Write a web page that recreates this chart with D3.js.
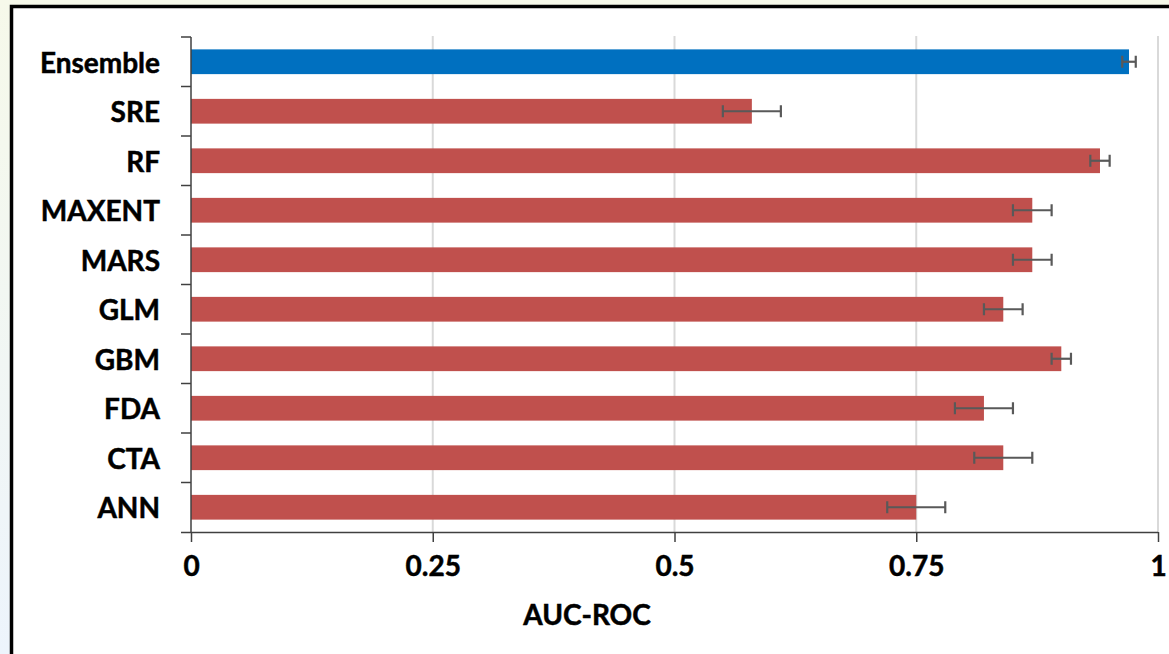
<!DOCTYPE html>
<html>
<head>
<meta charset="utf-8">
<script src="https://cdn.jsdelivr.net/npm/d3@7"></script>
<style>
  html, body { margin: 0; padding: 0; }
  body { width: 1169px; height: 654px; overflow: hidden; }
  text { font-family: Lato, "Liberation Sans", sans-serif; font-weight: bold; fill: #000; stroke: #000; stroke-width: 0.5px; }
</style>
</head>
<body>
<svg id="chart" width="1169" height="654"></svg>
<script>
// Model names, mean AUC-ROC and the spread shown by the error bars
const models = ["Ensemble", "SRE", "RF", "MAXENT", "MARS", "GLM", "GBM", "FDA", "CTA", "ANN"];
const aucMean = [0.97, 0.58, 0.94, 0.87, 0.87, 0.84, 0.90, 0.82, 0.84, 0.75];
const aucErr  = [0.007, 0.03, 0.01, 0.02, 0.02, 0.02, 0.01, 0.03, 0.03, 0.03];
const xTicks  = [0, 0.25, 0.5, 0.75, 1];
const xTickLabels = ["0", "0.25", "0.5", "0.75", "1"];
const axisTitle = "AUC-ROC";

const rows = models.map((m, i) => ({ model: m, mean: aucMean[i], err: aucErr[i] }));

const svg = d3.select("#chart");

// soft page backdrop with the framed chart area on top
const defs = svg.append("defs");
const grad = defs.append("linearGradient").attr("id", "bg").attr("x1", 0).attr("y1", 0).attr("x2", 0).attr("y2", 1);
grad.append("stop").attr("offset", "0%").attr("stop-color", "#F6F9EA");
grad.append("stop").attr("offset", "100%").attr("stop-color", "#EDF4FC");
svg.append("rect").attr("width", 1169).attr("height", 654).attr("fill", "url(#bg)");
svg.append("rect").attr("x", 11.5).attr("y", 6.5).attr("width", 1200).attr("height", 700)
  .attr("fill", "#fff").attr("stroke", "#000").attr("stroke-width", 3.5);

const plotLeft = 191, plotRight = 1158, plotTop = 37, plotBottom = 532;

const x = d3.scaleLinear().domain([0, 1]).range([plotLeft, plotRight]);
const y = d3.scaleBand().domain(models).range([plotTop, plotBottom]).paddingInner(0.5).paddingOuter(0.25);

// vertical gridlines
svg.append("g").selectAll("line").data(xTicks.filter(t => t > 0)).join("line")
  .attr("x1", d => x(d)).attr("x2", d => x(d))
  .attr("y1", plotTop - 1).attr("y2", plotBottom)
  .attr("stroke", "#D9D9D9").attr("stroke-width", 2);

// bars
svg.append("g").selectAll("rect").data(rows).join("rect")
  .attr("x", x(0)).attr("y", d => y(d.model))
  .attr("width", d => x(d.mean) - x(0)).attr("height", y.bandwidth())
  .attr("fill", d => d.model === "Ensemble" ? "#0070C0" : "#C0504D");

// error bars
const eb = svg.append("g").attr("stroke", "#595959").attr("stroke-width", 2.2);
rows.forEach(d => {
  const cy = y(d.model) + y.bandwidth() / 2;
  eb.append("line").attr("x1", x(d.mean - d.err)).attr("x2", x(d.mean + d.err)).attr("y1", cy).attr("y2", cy);
  [d.mean - d.err, d.mean + d.err].forEach(v => {
    eb.append("line").attr("x1", x(v)).attr("x2", x(v)).attr("y1", cy - 6).attr("y2", cy + 6);
  });
});

// x axis
const xAxis = d3.axisBottom(x).tickValues(xTicks).tickFormat((d, i) => xTickLabels[i]).tickSize(10).tickPadding(14).tickSizeOuter(0);
const gx = svg.append("g").attr("transform", `translate(0,${plotBottom})`).call(xAxis);
gx.select(".domain").attr("d", `M${plotLeft - 10},0.5H${plotRight}`).attr("stroke", "#404040").attr("stroke-width", 1.5);
gx.selectAll(".tick line").attr("stroke", "#404040").attr("stroke-width", 1.5);
gx.selectAll(".tick text").attr("font-size", 28).attr("font-family", "Lato, 'Liberation Sans', sans-serif")
  .attr("font-weight", "bold").attr("fill", "#000").attr("stroke", "#000").attr("stroke-width", 0.5);

// y axis: ticks sit on the band boundaries
const gy = svg.append("g").attr("transform", `translate(${plotLeft},0)`);
gy.append("line").attr("x1", 0).attr("x2", 0).attr("y1", plotTop).attr("y2", plotBottom)
  .attr("stroke", "#404040").attr("stroke-width", 1.5);
const boundaries = d3.range(models.length).map(i => plotTop + i * y.step());
gy.selectAll("line.tk").data(boundaries).join("line").attr("class", "tk")
  .attr("x1", -10).attr("x2", 0).attr("y1", d => d).attr("y2", d => d)
  .attr("stroke", "#404040").attr("stroke-width", 1.5);
gy.selectAll("text").data(models).join("text")
  .attr("x", -31).attr("y", d => y(d) + y.bandwidth() / 2)
  .attr("text-anchor", "end").attr("dominant-baseline", "central")
  .attr("font-size", 28).text(d => d);

// axis title
svg.append("text").attr("x", 587).attr("y", 625).attr("text-anchor", "middle")
  .attr("font-size", 28).text(axisTitle);
</script>
</body>
</html>
